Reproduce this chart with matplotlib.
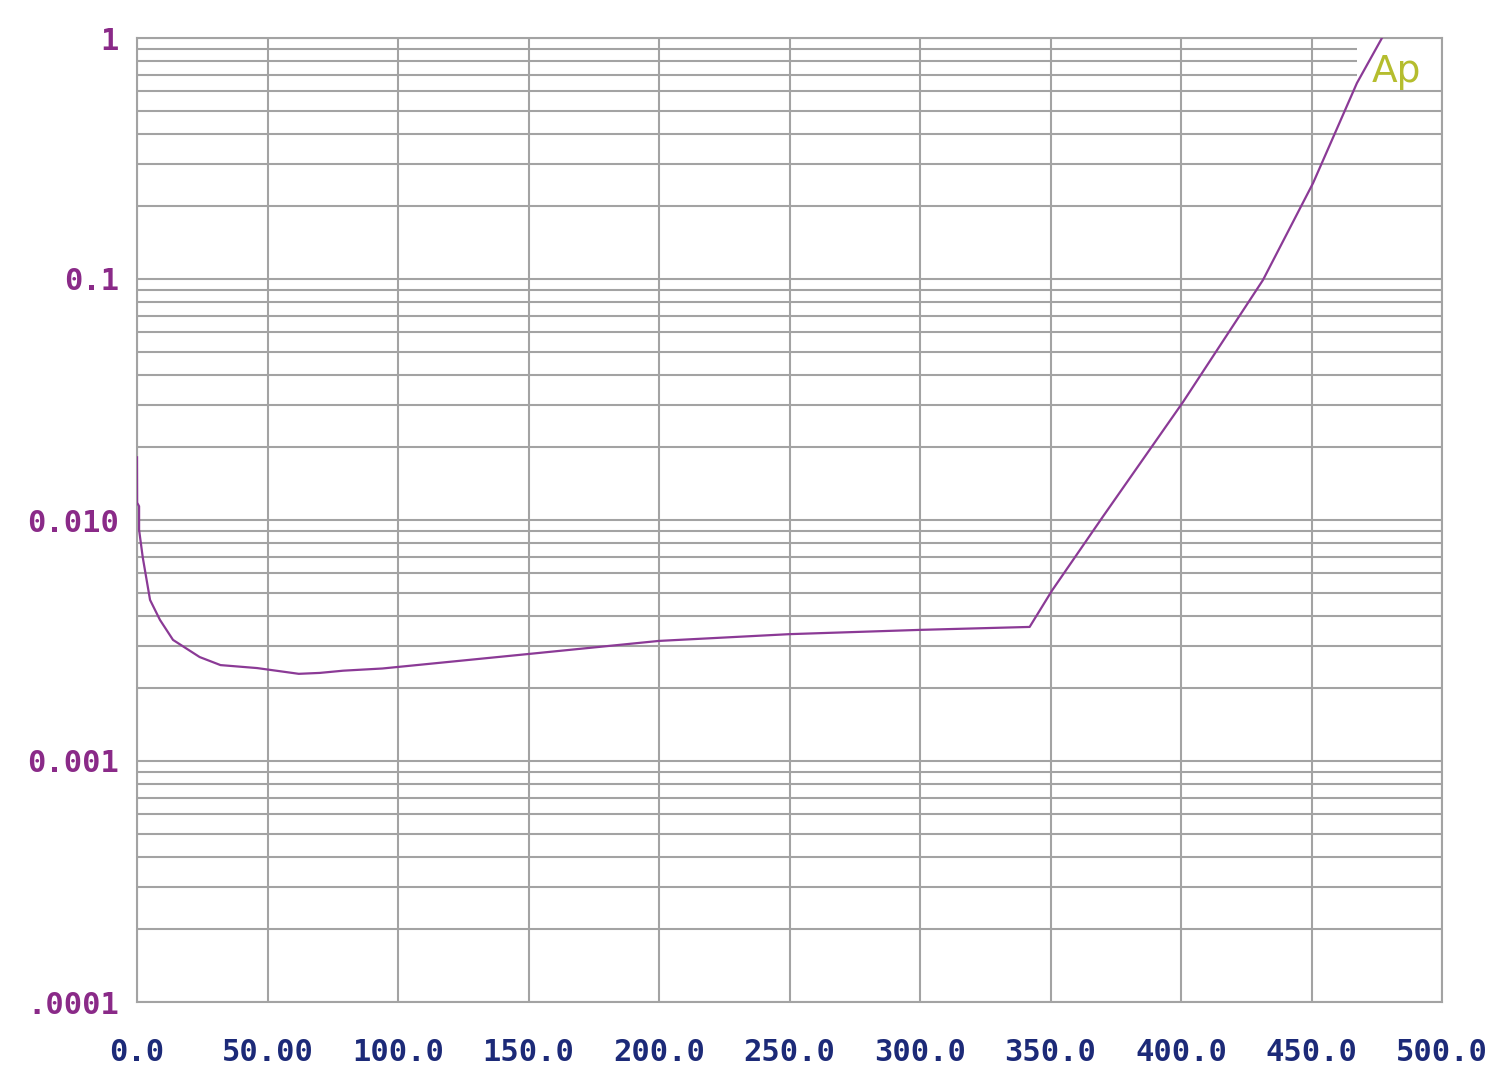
import matplotlib
matplotlib.use("Agg")
import matplotlib.pyplot as plt
from matplotlib.ticker import NullLocator

# ------------------------------------------------------------------------------
# Data
# ------------------------------------------------------------------------------

freq = [0.0, 0.05, 0.8, 0.8, 2.2, 5.0, 8.8, 13.8, 24.0, 32.0, 46.0, 62.0,
        70.0, 79.0, 94.0, 150.0, 200.0, 250.0, 300.0, 342.0, 350.6, 370.0,
        400.8, 431.4, 450.6, 467.4, 477.0]
level = [0.0182, 0.0118, 0.0114, 0.0091, 0.0070, 0.00466, 0.00385, 0.00318,
         0.0027, 0.0025, 0.00243, 0.0023, 0.00232, 0.00237, 0.00242, 0.00278,
         0.00315, 0.00336, 0.0035, 0.0036, 0.0051, 0.0103, 0.0309, 0.099,
         0.25, 0.65, 1.0]

x_ticks = [0, 50, 100, 150, 200, 250, 300, 350, 400, 450, 500]
x_labels = ["0.0", "50.00", "100.0", "150.0", "200.0", "250.0", "300.0",
            "350.0", "400.0", "450.0", "500.0"]
y_ticks = [1e-4, 1e-3, 1e-2, 1e-1, 1]
y_labels = [".0001", "0.001", "0.010", "0.1", "1"]

# ------------------------------------------------------------------------------
# Style
# ------------------------------------------------------------------------------

grid_color = "#a3a3a3"
line_color = "#8b3a96"
ylab_color = "#8a2a88"
xlab_color = "#1c2a78"

fig = plt.figure(figsize=(15, 10.72), dpi=100)
ax = fig.add_axes([137 / 1500, 1 - 1002 / 1072, (1442 - 137) / 1500, (1002 - 38) / 1072])

ax.set_yscale("log")
ax.set_xlim(0, 500)
ax.set_ylim(1e-4, 1)

# grid: verticals every 50, decade + minor horizontals
for xv in x_ticks:
    ax.axvline(xv, color=grid_color, lw=1.5, zorder=1)
for k in range(-4, 1):
    for m in range(1, 10):
        yv = m * 10.0 ** k
        if yv > 1:
            break
        # top minor lines (0.7 .. 0.9) stop short of the "Ap" logo
        xmax = 467.4 if (k == -1 and m >= 7) else 500
        ax.hlines(yv, 0, xmax, color=grid_color, lw=1.5, zorder=1)

ax.plot(freq, level, color=line_color, lw=1.6, zorder=3)

for s in ax.spines.values():
    s.set_color(grid_color)
    s.set_linewidth(1.5)

ax.set_xticks(x_ticks)
ax.set_xticklabels(x_labels)
ax.set_yticks(y_ticks)
ax.set_yticklabels(y_labels)
ax.yaxis.set_minor_locator(NullLocator())
ax.tick_params(length=0)
ax.tick_params(axis="x", pad=26, labelsize=22, labelcolor=xlab_color)
ax.tick_params(axis="y", pad=13, labelsize=22, labelcolor=ylab_color)
for lbl in ax.get_xticklabels() + ax.get_yticklabels():
    lbl.set_family("DejaVu Sans Mono")
    lbl.set_fontweight("bold")

ax.text(0.946, 0.965, "Ap", transform=ax.transAxes, color="#b5bd2e",
        fontsize=27, ha="left", va="center", family="DejaVu Sans")

fig.savefig("out.png", dpi=100)
